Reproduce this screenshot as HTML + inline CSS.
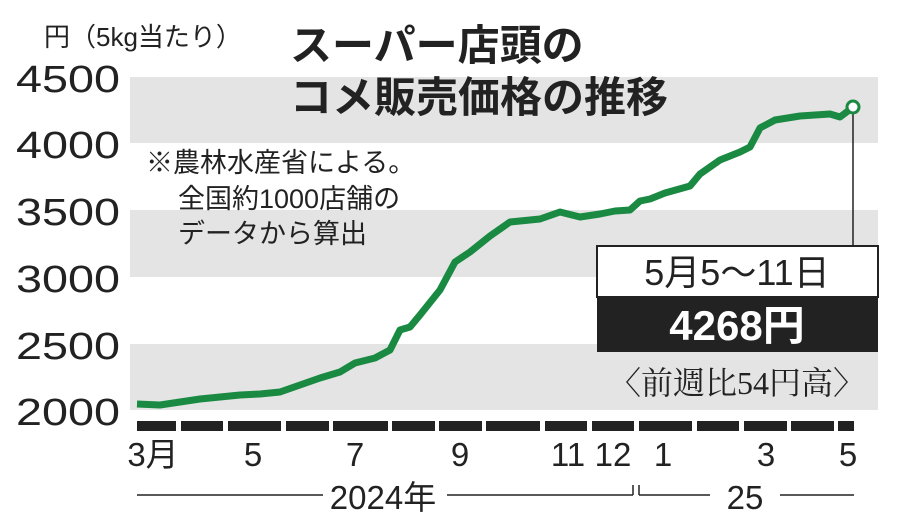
<!DOCTYPE html><html><head><meta charset="utf-8"><style>
body{margin:0;background:#fff;}
svg text{font-family:"Liberation Sans","Noto Sans CJK JP",sans-serif;}
</style></head><body>
<svg width="900" height="527" viewBox="0 0 900 527" xmlns="http://www.w3.org/2000/svg">
<rect width="900" height="527" fill="#fff"/>
<rect x="130" y="77" width="748" height="66" fill="#e4e4e4"/>
<rect x="130" y="210" width="748" height="67" fill="#e4e4e4"/>
<rect x="130" y="344" width="748" height="66" fill="#e4e4e4"/>
<g font-size="38" text-anchor="end" fill="#222">
<text x="120" y="92" textLength="104" lengthAdjust="spacingAndGlyphs">4500</text><text x="120" y="158" textLength="104" lengthAdjust="spacingAndGlyphs">4000</text><text x="120" y="225" textLength="104" lengthAdjust="spacingAndGlyphs">3500</text>
<text x="120" y="292" textLength="104" lengthAdjust="spacingAndGlyphs">3000</text><text x="120" y="359" textLength="104" lengthAdjust="spacingAndGlyphs">2500</text><text x="120" y="425" textLength="104" lengthAdjust="spacingAndGlyphs">2000</text>
</g>
<text x="44" y="46" font-size="26" fill="#222">円（5kg当たり）</text>
<g font-size="42" font-weight="bold" fill="#222"><text x="290" y="60">スーパー店頭の</text><text x="290" y="112">コメ販売価格の推移</text></g>
<g font-size="27" fill="#222"><text x="146" y="172">※農林水産省による。</text><text x="178" y="208">全国約1000店舗の</text><text x="178" y="243">データから算出</text></g>
<polyline fill="none" stroke="#1a8a42" stroke-width="7" stroke-linejoin="round" points="137,404 160,405 180,402 200,399 220,397 240,395 260,394 280,392 300,385 320,378 340,372 355,363 375,358 390,350 400,330 410,327 420,315 440,290 455,262 470,252 490,236 510,222 540,219 560,212 580,217 600,214 615,211 630,210 640,201 650,199 665,193 690,186 700,174 720,160 740,152 750,147 760,128 775,120 800,116 830,114 840,117 852,108"/>
<line x1="853" y1="108" x2="853" y2="246" stroke="#222" stroke-width="1.5"/>
<circle cx="853" cy="107" r="6" fill="#fff" stroke="#1a8a42" stroke-width="3"/>
<rect x="597" y="246" width="281" height="51" fill="#fff" stroke="#222" stroke-width="2"/>
<rect x="597" y="297" width="281" height="55" fill="#222"/>
<text x="737" y="285" font-size="36" text-anchor="middle" fill="#222">5月5～11日</text>
<text x="737" y="340" font-size="42" font-weight="bold" text-anchor="middle" fill="#fff">4268円</text>
<text x="737" y="394" font-size="32" text-anchor="middle" fill="#222" style="font-family:'Liberation Serif','Noto Serif CJK SC',serif">〈前週比54円高〉</text>
<g fill="#222">
<rect x="137" y="421" width="39" height="10"/><rect x="181" y="421" width="42" height="10"/><rect x="228" y="421" width="53" height="10"/>
<rect x="286" y="421" width="43" height="10"/><rect x="333" y="421" width="55" height="10"/><rect x="392" y="421" width="43" height="10"/>
<rect x="439" y="421" width="43" height="10"/><rect x="486" y="421" width="54" height="10"/><rect x="545" y="421" width="42" height="10"/>
<rect x="592" y="421" width="42" height="10"/><rect x="639" y="421" width="53" height="10"/><rect x="697" y="421" width="42" height="10"/>
<rect x="744" y="421" width="43" height="10"/><rect x="791" y="421" width="43" height="10"/><rect x="838" y="421" width="16" height="10"/>
</g>
<g font-size="33" fill="#222" text-anchor="middle">
<text x="153" y="466">3月</text><text x="253" y="466">5</text><text x="355" y="466">7</text><text x="460" y="466">9</text>
<text x="568" y="466">11</text><text x="613" y="466">12</text><text x="663" y="466">1</text><text x="766" y="466">3</text><text x="848" y="466">5</text>
<text x="383" y="509">2024年</text><text x="745" y="509">25</text>
</g>
<g stroke="#222" stroke-width="1.5" fill="none">
<line x1="137" y1="495" x2="323" y2="495"/><line x1="447" y1="495" x2="633" y2="495"/><line x1="633" y1="495" x2="633" y2="485"/>
<line x1="639" y1="485" x2="639" y2="495"/><line x1="639" y1="495" x2="710" y2="495"/><line x1="780" y1="495" x2="854" y2="495"/>
</g>
</svg>
</body></html>
